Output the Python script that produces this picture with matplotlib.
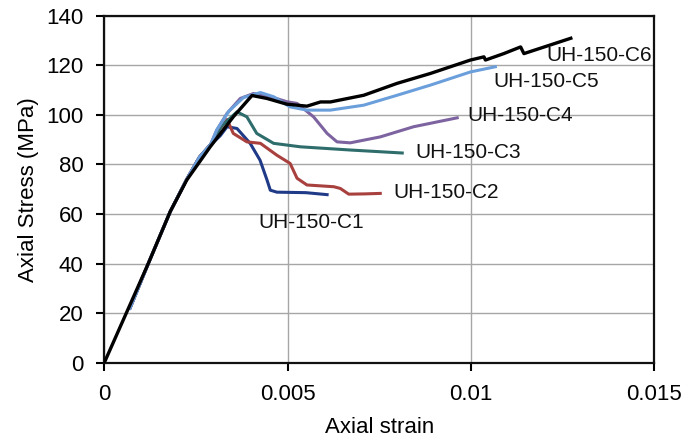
import numpy as np
import matplotlib
matplotlib.use("Agg")
import matplotlib.pyplot as plt

plt.rcParams['font.family'] = ['Liberation Sans', 'DejaVu Sans']

# shared ascending branch (strain, MPa)
rise_strain = [0.0007, 0.0012, 0.0018, 0.00225, 0.0026, 0.0029]
rise_stress = [22, 40, 61, 74, 83, 88]

# specimen curves after the common rise
c1_strain = [0.00316, 0.00335, 0.00362, 0.00398, 0.00425, 0.00444, 0.00453, 0.00471, 0.0055, 0.00608]
c1_stress = [91.5, 95.2, 94.5, 88.5, 81.7, 73.7, 69.6, 68.8, 68.6, 67.8]

c2_strain = [0.00316, 0.00335, 0.00352, 0.00389, 0.00426, 0.00471, 0.00507, 0.00526, 0.00553,
             0.00626, 0.00644, 0.00667, 0.0071, 0.00753]
c2_stress = [94.5, 98.1, 92.5, 89.1, 88.5, 83.7, 80.4, 74.4, 71.7, 71.0, 70.3, 68.0, 68.1, 68.3]

c3_strain = [0.0032, 0.00362, 0.00389, 0.00416, 0.00462, 0.00535, 0.00672, 0.00813]
c3_stress = [95.5, 101.2, 99.2, 92.5, 88.5, 87.1, 85.8, 84.6]

c4_strain = [0.00307, 0.00335, 0.00371, 0.00407, 0.0045, 0.00498, 0.00526, 0.00571, 0.00608,
             0.00635, 0.00671, 0.00753, 0.00844, 0.00963]
c4_stress = [93.8, 100.6, 106.6, 108.6, 107.5, 105.3, 104.6, 99.2, 92.5, 89.1, 88.7, 91.1, 95.2, 98.8]

c5_strain = [0.00307, 0.0034, 0.0038, 0.00426, 0.00462, 0.00507, 0.00553, 0.00617, 0.00708,
             0.00799, 0.0089, 0.00999, 0.01067]
c5_stress = [94.0, 101.5, 107.0, 109.0, 107.3, 103.2, 101.9, 101.9, 103.9, 107.9, 112.0, 117.3, 119.4]

c6_strain = [0.0, 0.0006, 0.0012, 0.0018, 0.00225, 0.00289, 0.00352, 0.00403, 0.00444, 0.00498,
             0.00553, 0.0059, 0.00617, 0.00708, 0.00799, 0.0089, 0.00999, 0.01036, 0.0104,
             0.0109, 0.01136, 0.01145, 0.01273]
c6_stress = [0, 20, 40, 61, 73.7, 87.1, 99.2, 107.8, 106.6, 104.3, 103.5, 105.2, 105.2, 107.9,
             112.7, 116.7, 122.1, 123.4, 122.1, 124.7, 127.4, 124.7, 130.9]

names = ['UH-150-C1', 'UH-150-C2', 'UH-150-C3', 'UH-150-C4', 'UH-150-C5', 'UH-150-C6']
label_x = [0.0042, 0.0079, 0.0085, 0.0099, 0.01063, 0.01205]
label_y = [56.7, 68.7, 85.0, 99.8, 113.5, 124.0]
colors = ['#1f3a87', '#a8403e', '#2e6d6c', '#7d64a0', '#6a9fdc', '#000000']

fig = plt.figure(figsize=(6.88, 4.47), dpi=100)
ax = fig.add_axes([0.1516, 0.1886, 0.799, 0.7763])

curves = [(c1_strain, c1_stress), (c2_strain, c2_stress), (c3_strain, c3_stress),
          (c4_strain, c4_stress), (c5_strain, c5_stress)]
for (xs, ys), col in zip(curves, colors[:5]):
    ax.plot(rise_strain + xs, rise_stress + ys, color=col, lw=2.2, zorder=3)
ax.plot(c6_strain, c6_stress, color=colors[5], lw=2.4, zorder=4)

for name, lx, ly in zip(names, label_x, label_y):
    ax.text(lx, ly, name, fontsize=15, color='#111111', va='center', ha='left', zorder=5)

ax.set_xlim(0, 0.015)
ax.set_ylim(0, 140)
ax.set_xticks([0, 0.005, 0.01, 0.015])
ax.set_xticklabels(['0', '0.005', '0.01', '0.015'])
ax.set_yticks(np.arange(0, 141, 20))
ax.grid(True, color='#a6a6a6', lw=1.0)
ax.set_axisbelow(True)
for sp in ax.spines.values():
    sp.set_linewidth(1.6)
    sp.set_color('#111111')
ax.tick_params(axis='both', labelsize=16, length=6, width=1.5, direction='out')
ax.tick_params(axis='x', pad=9)
ax.tick_params(axis='y', pad=9)
ax.set_xlabel('Axial strain', fontsize=16, labelpad=9)
ax.set_ylabel('Axial Stress (MPa)', fontsize=16, labelpad=5)

fig.savefig('out.png', dpi=100)
